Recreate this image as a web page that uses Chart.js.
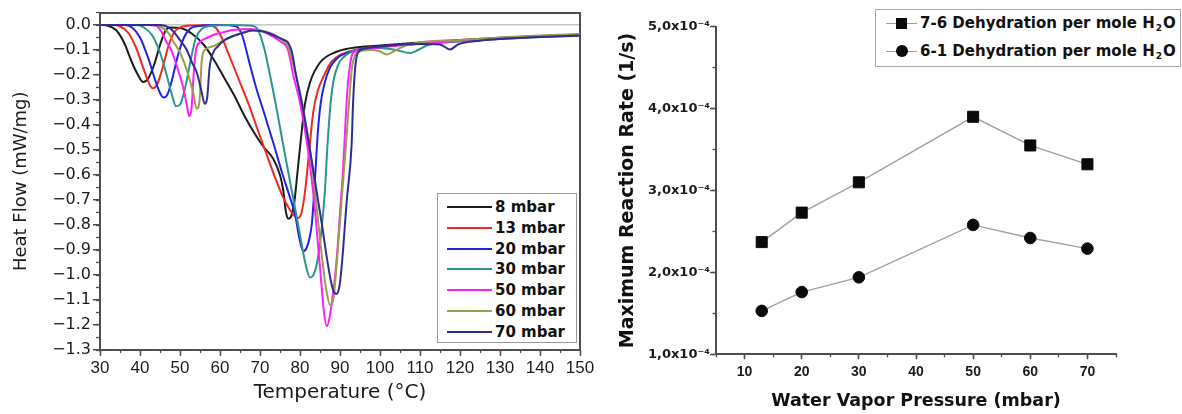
<!DOCTYPE html>
<html lang="en">
<head>
<meta charset="utf-8">
<title>Dehydration DSC and reaction rate</title>
<script src="https://cdn.jsdelivr.net/npm/chart.js@4.4.1/dist/chart.umd.min.js"></script>
<style>
  html, body { margin: 0; padding: 0; background: #fff; }
  body { position: relative; width: 1182px; height: 414px; overflow: hidden; font-family: "DejaVu Sans", sans-serif; }
  canvas { position: absolute; top: 0; }
  #dscChart { left: 0; }
  #rateChart { left: 600px; }
  .legend { position: absolute; box-sizing: border-box; background: #fff; border: 1px solid #9a9a9a; }
  .legend .row { position: absolute; left: 0; height: 20px; display: flex; align-items: center; white-space: nowrap; font-weight: bold; color: #111; }
  #dscLegend { left: 437px; top: 193px; width: 140px; height: 150px; font-size: 15px; }
  #dscLegend .swatch { display: inline-block; width: 45px; height: 2px; margin: 0 3px 0 9px; }
  #rateLegend { left: 875px; top: 9px; width: 306px; height: 58px; font-size: 15px; border-color: #a8a8a8; }
  #rateLegend .sym { position: relative; display: inline-block; width: 31px; height: 20px; margin: 0 3px 0 10px; }
  #rateLegend .sym::before { content: ""; position: absolute; left: 0; right: 0; top: 9.5px; height: 1px; background: #9d9d9d; }
  #rateLegend .mark { position: absolute; left: 10px; top: 4.5px; width: 11px; height: 11px; background: #0a0a0a; }
  #rateLegend .mark.circle { left: 9.5px; top: 4px; width: 12px; height: 12px; border-radius: 50%; }
  #rateLegend .sub { display: inline-block; font-size: 9px; position: relative; top: 5px; margin: 0 1px; }
</style>
</head>
<body>
<canvas id="dscChart" width="600" height="414"></canvas>
<canvas id="rateChart" width="582" height="414"></canvas>
<div class="legend" id="dscLegend"></div>
<div class="legend" id="rateLegend"></div>
<script>
// left panel: DSC curves, [temperature °C, heat flow mW/mg]
const pressures = [8, 13, 20, 30, 50, 60, 70];
const curveColors = ["#1c1c1c", "#f0281e", "#2323e4", "#2a968c", "#ff1eff", "#9c9c4c", "#2d2d96"];

const dsc8 = [[30,0],[32,-0.003],[34,-0.02],[36,-0.07],[38,-0.15],[39.5,-0.2],[40.8,-0.228],[42,-0.215],[43.5,-0.16],[45,-0.08],[46.3,-0.025],[47.5,-0.01],[50,-0.012],[53,-0.035],[56,-0.08],[58.5,-0.14],[61,-0.21],[63.5,-0.28],[66,-0.36],[68.5,-0.43],[71,-0.49],[73.3,-0.535],[75,-0.6],[75.8,-0.66],[76.5,-0.75],[77.1,-0.775],[77.8,-0.765],[78.5,-0.72],[79.3,-0.6],[80.2,-0.46],[81.2,-0.32],[82.5,-0.23],[85,-0.15],[89,-0.108],[95,-0.088],[100,-0.082],[110,-0.07],[120,-0.06],[130,-0.051],[140,-0.044],[150,-0.038]];
const dsc13 = [[30,0],[33,0],[35,-0.005],[37,-0.03],[39,-0.09],[41,-0.18],[42.3,-0.235],[43.2,-0.253],[44.2,-0.24],[45.5,-0.18],[47,-0.09],[48.5,-0.03],[50,-0.01],[53,-0.002],[57,-0.001],[59,-0.012],[61,-0.07],[62,-0.11],[65,-0.23],[67,-0.31],[69,-0.4],[71.7,-0.52],[74,-0.62],[75.8,-0.69],[77.5,-0.74],[78.7,-0.765],[79.5,-0.772],[80.4,-0.75],[81.3,-0.66],[82.2,-0.52],[83.3,-0.35],[84.5,-0.26],[85.8,-0.21],[87.5,-0.155],[89.2,-0.128],[92,-0.108],[95,-0.096],[100,-0.086],[110,-0.073],[120,-0.063],[130,-0.054],[140,-0.046],[150,-0.04]];
const dsc20 = [[30,0],[36,0],[38,-0.01],[40,-0.05],[42,-0.13],[44,-0.23],[45,-0.272],[45.9,-0.29],[46.8,-0.28],[48,-0.22],[49.5,-0.12],[51,-0.05],[52.5,-0.015],[55,-0.003],[60,0],[64,-0.005],[65.5,-0.04],[67.5,-0.16],[69.2,-0.26],[70.8,-0.34],[73.3,-0.47],[75.5,-0.59],[77.5,-0.69],[78.8,-0.76],[79.8,-0.85],[80.8,-0.905],[81.7,-0.89],[82.4,-0.85],[83,-0.79],[83.8,-0.6],[84.5,-0.42],[85.2,-0.31],[86.2,-0.23],[87.5,-0.17],[89.5,-0.13],[91.7,-0.112],[95,-0.097],[100,-0.087],[110,-0.073],[120,-0.063],[130,-0.054],[140,-0.046],[150,-0.04]];
const dsc30 = [[30,0],[39,0],[41,-0.01],[43,-0.04],[45,-0.11],[46.5,-0.19],[48,-0.28],[49,-0.325],[50,-0.318],[51.3,-0.25],[52.8,-0.13],[54,-0.05],[55.5,-0.015],[58,-0.003],[62,0],[68,-0.003],[69.5,-0.02],[71,-0.09],[72.5,-0.2],[74.2,-0.34],[75.8,-0.48],[77.2,-0.6],[78.5,-0.71],[80,-0.84],[81.3,-0.95],[82.5,-1.01],[83.5,-0.995],[84.5,-0.93],[85.5,-0.8],[86.2,-0.67],[86.8,-0.5],[87.5,-0.34],[88.3,-0.23],[89.5,-0.16],[90.8,-0.13],[93,-0.106],[97,-0.095],[100,-0.092],[104,-0.1],[107.5,-0.112],[109.5,-0.1],[112,-0.08],[120,-0.066],[130,-0.056],[140,-0.048],[150,-0.043]];
const dsc50 = [[30,0],[42,0],[44,-0.003],[45.3,-0.025],[46.5,-0.065],[47.5,-0.09],[48.5,-0.13],[49.5,-0.18],[50.8,-0.25],[51.7,-0.32],[52.3,-0.365],[52.9,-0.33],[53.4,-0.2],[54,-0.1],[55,-0.068],[56.7,-0.052],[58.3,-0.04],[61,-0.028],[63.3,-0.02],[67.5,-0.016],[70,-0.022],[72,-0.035],[75,-0.065],[77,-0.1],[78.3,-0.2],[80,-0.31],[82,-0.5],[83.5,-0.7],[85,-0.97],[86,-1.15],[86.7,-1.205],[87.4,-1.17],[88.2,-1.08],[88.8,-1.0],[89.5,-0.87],[90,-0.75],[90.8,-0.57],[91.5,-0.35],[92,-0.23],[92.6,-0.15],[93.2,-0.112],[95,-0.1],[100,-0.09],[110,-0.075],[120,-0.064],[130,-0.054],[140,-0.046],[150,-0.04]];
const dsc60 = [[30,0],[43,0],[45,-0.005],[47,-0.03],[48.5,-0.07],[50,-0.11],[51.7,-0.18],[53.3,-0.27],[54.2,-0.335],[54.9,-0.3],[55.4,-0.15],[56.2,-0.1],[58.3,-0.085],[61,-0.06],[64,-0.04],[67,-0.025],[69,-0.02],[71,-0.025],[73,-0.035],[75,-0.055],[77,-0.085],[78.5,-0.17],[80,-0.27],[81.5,-0.4],[83,-0.56],[84.5,-0.78],[85.8,-0.97],[86.8,-1.08],[87.5,-1.12],[88.3,-1.1],[89.2,-0.95],[90.4,-0.7],[91.4,-0.5],[92.3,-0.3],[93,-0.17],[93.8,-0.12],[95,-0.105],[98,-0.1],[100,-0.106],[101.7,-0.118],[103.5,-0.105],[106,-0.085],[110,-0.07],[120,-0.06],[130,-0.05],[140,-0.042],[150,-0.036]];
const dsc70 = [[30,0],[45,0],[46.5,-0.005],[48,-0.02],[50,-0.06],[51.7,-0.1],[53,-0.15],[54.2,-0.19],[55.3,-0.26],[56.2,-0.315],[56.8,-0.29],[57.4,-0.17],[58.3,-0.11],[59.5,-0.085],[61,-0.062],[63,-0.046],[66,-0.03],[68,-0.022],[70.5,-0.025],[72.5,-0.035],[74,-0.045],[76,-0.06],[77,-0.07],[78,-0.11],[79,-0.2],[80.8,-0.34],[82.5,-0.5],[84.2,-0.67],[85.5,-0.8],[86.7,-0.93],[87.8,-1.03],[88.5,-1.068],[89.1,-1.076],[89.8,-1.05],[90.4,-0.97],[91.7,-0.7],[92.9,-0.48],[93.3,-0.3],[93.8,-0.17],[94.5,-0.11],[96,-0.095],[100,-0.086],[110,-0.076],[115,-0.078],[117.5,-0.098],[119.5,-0.078],[125,-0.063],[130,-0.056],[140,-0.048],[150,-0.042]];
const dscCurves = [dsc8, dsc13, dsc20, dsc30, dsc50, dsc60, dsc70];

// right panel: maximum reaction rate (1/s) vs water vapour pressure (mbar)
const vaporPressure = [13, 20, 30, 50, 60, 70];
const rate76 = [2.37e-4, 2.73e-4, 3.10e-4, 3.90e-4, 3.55e-4, 3.32e-4];
const rate61 = [1.53e-4, 1.76e-4, 1.94e-4, 2.58e-4, 2.42e-4, 2.29e-4];
const rateLabels = ["7-6 Dehydration per mole H\u2082O", "6-1 Dehydration per mole H\u2082O"];

const frameColor = "#4e4e4e";
const textColor = "#1c1c1c";

const isMultiple = (v, step) => Math.abs(v / step - Math.round(v / step)) < 1e-6;
const keepMajor = (step) => (s) => { s.ticks = s.ticks.filter(t => isMultiple(t.value, step)); };
const fixWidth = (w) => (s) => { s.width = w; };
const fixHeight = (h) => (s) => { s.height = h; };
const fmtHeat = (v) => (Math.abs(v) < 1e-9 ? 0 : v).toFixed(1).replace("-", "\u2212");
const fmtRate = (v) => (v / 1e-4).toFixed(1).replace(".", ",") + "x10\u207B\u2074";

// minor tick axes sit right on the plot edge, drawing short ticks only
function minorAxis(position, min, max, step, len) {
  const horizontal = position === "bottom" || position === "top";
  return {
    type: "linear", position, weight: -1, min, max,
    afterFit: horizontal ? fixHeight(0) : fixWidth(0),
    ticks: { display: false, stepSize: step, autoSkip: false },
    grid: { drawOnChartArea: false, tickLength: len, tickColor: frameColor, tickWidth: 1.3 },
    border: { display: false },
  };
}
function frameAxis(position, min, max) {
  const horizontal = position === "bottom" || position === "top";
  return {
    type: "linear", position, min, max,
    afterFit: horizontal ? fixHeight(0) : fixWidth(0),
    ticks: { display: false },
    grid: { drawOnChartArea: false, drawTicks: false },
    border: { color: frameColor, width: 2 },
  };
}

new Chart(document.getElementById("dscChart"), {
  type: "line",
  data: {
    datasets: dscCurves.map((pts, i) => ({
      label: pressures[i] + " mbar",
      data: pts.map(([x, y]) => ({ x, y })),
      borderColor: curveColors[i],
      backgroundColor: curveColors[i],
      borderWidth: 2,
      pointRadius: 0,
      cubicInterpolationMode: "monotone",
      order: dscCurves.length - 1 - i,
    })),
  },
  options: {
    responsive: false,
    animation: false,
    layout: { padding: { top: 12.5, right: 20, left: 0, bottom: 0 } },
    plugins: { legend: { display: false }, tooltip: { enabled: false } },
    scales: {
      x: {
        type: "linear", min: 30, max: 150,
        afterFit: fixHeight(64),
        afterBuildTicks: keepMajor(10),
        ticks: { stepSize: 5, autoSkip: false, maxRotation: 0, padding: 2, color: textColor,
                 font: { family: "'Liberation Sans', Arial, sans-serif", size: 17 } },
        grid: { drawOnChartArea: false, tickLength: 6, tickColor: frameColor, tickWidth: 1.5 },
        border: { color: frameColor, width: 2 },
        title: { display: true, text: "Temperature (\u00B0C)", color: textColor,
                 font: { family: "'DejaVu Sans', sans-serif", size: 20 }, padding: { top: 0, bottom: 9.5 } },
      },
      xMinor: minorAxis("bottom", 30, 150, 5, 3),
      xTop: frameAxis("top", 30, 150),
      y: {
        type: "linear", min: -1.3, max: 0.05,
        afterFit: fixWidth(100),
        afterBuildTicks: keepMajor(0.1),
        ticks: { stepSize: 0.05, autoSkip: false, padding: 2, color: textColor, callback: fmtHeat,
                 font: { family: "'DejaVu Sans', sans-serif", size: 16 } },
        grid: {
          drawOnChartArea: true,
          color: (c) => (c.tick && Math.abs(c.tick.value) < 1e-9 ? "#c6c6c6" : "rgba(0,0,0,0)"),
          lineWidth: 1.5,
          tickLength: 7, tickColor: frameColor, tickWidth: 1.5,
        },
        border: { color: frameColor, width: 2 },
        title: { display: true, text: "Heat Flow (mW/mg)", color: textColor,
                 font: { family: "'DejaVu Sans', sans-serif", size: 18 }, padding: { top: 11, bottom: 0 } },
      },
      yMinor: minorAxis("left", -1.3, 0.05, 0.05, 4),
      yRight: frameAxis("right", -1.3, 0.05),
    },
  },
});

new Chart(document.getElementById("rateChart"), {
  type: "line",
  data: {
    datasets: [
      {
        label: rateLabels[0],
        data: vaporPressure.map((p, i) => ({ x: p, y: rate76[i] })),
        borderColor: "#a0a0a0", borderWidth: 1.4,
        pointStyle: "rect", pointRadius: 7.8,
        pointBackgroundColor: "#0a0a0a", pointBorderColor: "#0a0a0a", pointBorderWidth: 1,
      },
      {
        label: rateLabels[1],
        data: vaporPressure.map((p, i) => ({ x: p, y: rate61[i] })),
        borderColor: "#a0a0a0", borderWidth: 1.4,
        pointStyle: "circle", pointRadius: 5.8,
        pointBackgroundColor: "#0a0a0a", pointBorderColor: "#0a0a0a", pointBorderWidth: 1,
      },
    ],
  },
  options: {
    responsive: false,
    animation: false,
    layout: { padding: { top: 26.7, right: 66, left: 0, bottom: 0 } },
    plugins: { legend: { display: false }, tooltip: { enabled: false } },
    scales: {
      x: {
        type: "linear", min: 5, max: 75,
        afterFit: fixHeight(59.7),
        afterBuildTicks: keepMajor(10),
        ticks: { stepSize: 5, autoSkip: false, maxRotation: 0, padding: 4, color: textColor,
                 font: { family: "'Liberation Sans', Arial, sans-serif", size: 14, weight: "bold" } },
        grid: { drawOnChartArea: false, tickLength: 5, tickColor: frameColor, tickWidth: 1.5 },
        border: { color: frameColor, width: 2 },
        title: { display: true, text: "Water Vapor Pressure (mbar)", color: "#111",
                 font: { family: "'DejaVu Sans', sans-serif", size: 17.5, weight: "bold" }, padding: { top: 0, bottom: 1.8 } },
      },
      xMinor: minorAxis("bottom", 5, 75, 5, 3),
      y: {
        type: "linear", min: 1e-4, max: 5e-4,
        afterFit: fixWidth(116),
        afterBuildTicks: keepMajor(1e-4),
        ticks: { stepSize: 0.5e-4, autoSkip: false, padding: 0, color: textColor, callback: fmtRate,
                 font: { family: "'DejaVu Sans', sans-serif", size: 13, weight: "bold" } },
        grid: { drawOnChartArea: false, tickLength: 6, tickColor: frameColor, tickWidth: 1.5 },
        border: { color: frameColor, width: 2 },
        title: { display: true, text: "Maximum Reaction Rate (1/s)", color: "#111",
                 font: { family: "'DejaVu Sans', sans-serif", size: 19, weight: "bold" }, padding: { top: 17, bottom: 0 } },
      },
      yMinor: minorAxis("left", 1e-4, 5e-4, 0.5e-4, 3.5),
    },
  },
});

// legends as HTML overlays, built from the same arrays
const dscLegend = document.getElementById("dscLegend");
pressures.forEach((p, i) => {
  const row = document.createElement("div");
  row.className = "row";
  row.style.top = (3 + 20.8 * i) + "px";
  row.innerHTML = '<span class="swatch" style="background:' + curveColors[i] + '"></span>' + p + " mbar";
  dscLegend.appendChild(row);
});

const rateLegend = document.getElementById("rateLegend");
rateLabels.forEach((label, i) => {
  const row = document.createElement("div");
  row.className = "row";
  row.style.top = (3 + 28.4 * i) + "px";
  const mark = i === 0 ? "mark" : "mark circle";
  row.innerHTML = '<span class="sym"><span class="' + mark + '"></span></span>' +
    label.replace("\u2082", '<span class="sub">2</span>');
  rateLegend.appendChild(row);
});
</script>
</body>
</html>
